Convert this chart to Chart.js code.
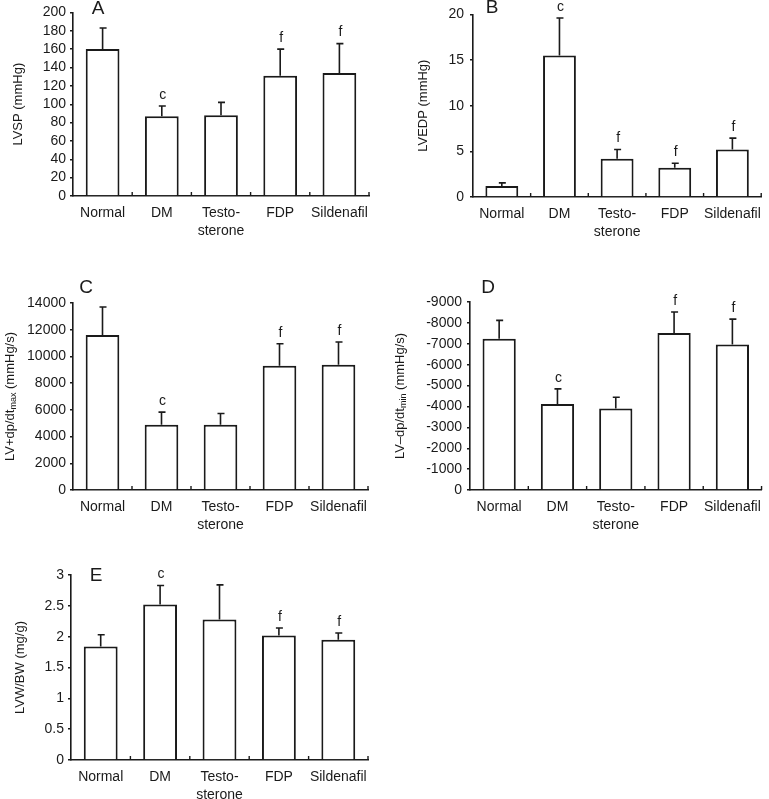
<!DOCTYPE html>
<html>
<head>
<meta charset="utf-8">
<script src="https://cdn.jsdelivr.net/npm/chart.js@4.4.1/dist/chart.umd.min.js"></script>
<style>
  body { margin: 0; background: #fff; }
  #wrap { position: relative; width: 769px; height: 799px; overflow: hidden; }
  canvas { position: absolute; }
</style>
</head>
<body>
<div id="wrap">
  <canvas id="chartA" width="385" height="270" style="left:0;top:0"></canvas>
  <canvas id="chartB" width="384" height="270" style="left:385px;top:0"></canvas>
  <canvas id="chartC" width="385" height="270" style="left:0;top:270px"></canvas>
  <canvas id="chartD" width="384" height="270" style="left:385px;top:270px"></canvas>
  <canvas id="chartE" width="385" height="259" style="left:0;top:540px"></canvas>
</div>
<script>
// groups on the x axis
const groups = ['Normal', 'DM', ['Testo-', 'sterone'], 'FDP', 'Sildenafil'];

// A - LVSP
const lvsp = [160, 87, 88, 131, 134];
const lvspErr = [23, 11, 14, 29, 32];
const lvspSig = ['', 'c', '', 'f', 'f'];

// B - LVEDP
const lvedp = [1.2, 15.5, 4.2, 3.2, 5.2];
const lvedpErr = [0.35, 4.1, 1.0, 0.5, 1.25];
const lvedpSig = ['', 'c', 'f', 'f', 'f'];

// C - LV+dp/dt max
const dpMax = [11600, 4880, 4880, 9300, 9380];
const dpMaxErr = [2100, 950, 850, 1650, 1700];
const dpMaxSig = ['', 'c', '', 'f', 'f'];

// D - LV-dp/dt min (plotted as magnitude, labelled negative)
const dpMin = [7240, 4120, 3900, 7510, 6970];
const dpMinErr = [880, 720, 540, 1010, 1210];
const dpMinSig = ['', 'c', '', 'f', 'f'];

// E - LVW/BW
const lvwbw = [1.84, 2.52, 2.28, 2.02, 1.95];
const lvwbwErr = [0.19, 0.31, 0.56, 0.12, 0.11];
const lvwbwSig = ['', 'c', '', 'f', 'f'];

const FONT = "'Liberation Sans', Arial, sans-serif";
const INK = '#1a1a1a';

// error bars, significance letters, x tick marks, panel letter and y title
const figurePlugin = {
    id: 'figure',
    afterDatasetsDraw(chart, args, opts) {
        const ctx = chart.ctx;
        const xs = chart.scales.x;
        const ys = chart.scales.y;
        const area = chart.chartArea;
        const values = chart.data.datasets[0].data;

        ctx.save();
        ctx.strokeStyle = INK;
        ctx.fillStyle = INK;
        ctx.lineWidth = 1.6;

        values.forEach(function(v, i) {
            const cx = xs.getPixelForValue(i);
            const yBar = ys.getPixelForValue(v);
            const yTop = ys.getPixelForValue(v + opts.errors[i]);
            ctx.beginPath();
            ctx.moveTo(cx, yBar);
            ctx.lineTo(cx, yTop);
            ctx.moveTo(cx - 3, yTop);
            ctx.lineTo(cx + 4, yTop);
            ctx.stroke();
            if (opts.marks[i]) {
                ctx.font = '14px ' + FONT;
                ctx.textAlign = 'center';
                ctx.textBaseline = 'bottom';
                ctx.fillText(opts.marks[i], cx + 1, yTop - 4);
            }
        });

        // small tick marks between groups, pointing up
        const half = (xs.getPixelForValue(1) - xs.getPixelForValue(0)) / 2;
        ctx.lineWidth = 1.4;
        for (let i = 0; i < values.length; i++) {
            const bx = xs.getPixelForValue(i) + half;
            ctx.beginPath();
            ctx.moveTo(bx, area.bottom);
            ctx.lineTo(bx, area.bottom - 4);
            ctx.stroke();
        }

        // panel letter
        ctx.font = '19px ' + FONT;
        ctx.textAlign = 'center';
        ctx.textBaseline = 'middle';
        ctx.fillText(opts.panel, opts.panelX, opts.panelY);

        // y axis title, rotated, with optional subscript part
        const parts = opts.title;
        const measure = function(p) {
            ctx.font = (p[1] ? '9px ' : '13px ') + FONT;
            return ctx.measureText(p[0]).width;
        };
        const total = parts.reduce(function(s, p) { return s + measure(p); }, 0);
        ctx.translate(opts.titleX, (area.top + area.bottom) / 2);
        ctx.rotate(-Math.PI / 2);
        ctx.textAlign = 'left';
        ctx.textBaseline = 'middle';
        let pos = -total / 2;
        parts.forEach(function(p) {
            const w = measure(p);
            ctx.fillText(p[0], pos, p[1] ? 4 : 0);
            pos += w;
        });
        ctx.restore();
    }
};

function makeChart(id, values, cfg) {
    return new Chart(document.getElementById(id), {
        type: 'bar',
        data: {
            labels: groups,
            datasets: [{
                data: values,
                backgroundColor: '#ffffff',
                borderColor: INK,
                borderWidth: 2,
                barPercentage: 0.57,
                categoryPercentage: 1
            }]
        },
        options: {
            responsive: false,
            animation: false,
            devicePixelRatio: 1,
            layout: { padding: { left: 0, right: cfg.padRight, top: cfg.padTop, bottom: 0 } },
            scales: {
                x: {
                    grid: { display: false, drawTicks: false },
                    border: { color: INK, width: 1.6 },
                    ticks: {
                        color: INK,
                        font: { family: FONT, size: 14, lineHeight: 1.3 },
                        padding: 8,
                        autoSkip: false,
                        maxRotation: 0,
                        minRotation: 0
                    },
                    afterFit: function(s) { s.height = cfg.xHeight; }
                },
                y: {
                    min: 0,
                    max: cfg.max,
                    grid: { drawOnChartArea: false, drawTicks: true, tickLength: 3, color: INK, lineWidth: 1.4 },
                    border: { color: INK, width: 1.6 },
                    ticks: {
                        stepSize: cfg.step,
                        autoSkip: false,
                        maxTicksLimit: 20,
                        color: INK,
                        font: { family: FONT, size: 14 },
                        padding: cfg.tickPad,
                        callback: cfg.tickFmt || function(v) { return v; }
                    },
                    afterFit: function(s) { s.width = cfg.yWidth; }
                }
            },
            plugins: {
                legend: { display: false },
                tooltip: { enabled: false },
                figure: {
                    errors: cfg.errors,
                    marks: cfg.marks,
                    panel: cfg.panel,
                    panelX: cfg.panelX,
                    panelY: cfg.panelY,
                    title: cfg.title,
                    titleX: cfg.titleX
                }
            }
        },
        plugins: [figurePlugin]
    });
}

makeChart('chartA', lvsp, {
    max: 200, step: 20, yWidth: 73, padRight: 16, padTop: 12, xHeight: 74, tickPad: 4,
    errors: lvspErr, marks: lvspSig, panel: 'A', panelX: 98, panelY: 9,
    title: [['LVSP (mmHg)', false]], titleX: 18
});

makeChart('chartB', lvedp, {
    max: 20, step: 5, yWidth: 88, padRight: 2, padTop: 11, xHeight: 73, tickPad: 6,
    errors: lvedpErr, marks: lvedpSig, panel: 'B', panelX: 107, panelY: 8,
    title: [['LVEDP (mmHg)', false]], titleX: 38
});

makeChart('chartC', dpMax, {
    max: 14000, step: 2000, yWidth: 73, padRight: 17, padTop: 33, xHeight: 50, tickPad: 4,
    errors: dpMaxErr, marks: dpMaxSig, panel: 'C', panelX: 86, panelY: 18,
    title: [['LV+dp/dt', false], ['max', true], [' (mmHg/s)', false]], titleX: 10
});

makeChart('chartD', dpMin, {
    max: 9000, step: 1000, yWidth: 85, padRight: 2, padTop: 32, xHeight: 50, tickPad: 5,
    errors: dpMinErr, marks: dpMinSig, panel: 'D', panelX: 103, panelY: 18,
    title: [['LV\u2013dp/dt', false], ['min', true], [' (mmHg/s)', false]], titleX: 15,
    tickFmt: function(v) { return v === 0 ? '0' : '-' + v; }
});

makeChart('chartE', lvwbw, {
    max: 3, step: 0.5, yWidth: 71, padRight: 17, padTop: 35, xHeight: 39, tickPad: 4,
    errors: lvwbwErr, marks: lvwbwSig, panel: 'E', panelX: 96, panelY: 36,
    title: [['LVW/BW (mg/g)', false]], titleX: 20
});
</script>
</body>
</html>
